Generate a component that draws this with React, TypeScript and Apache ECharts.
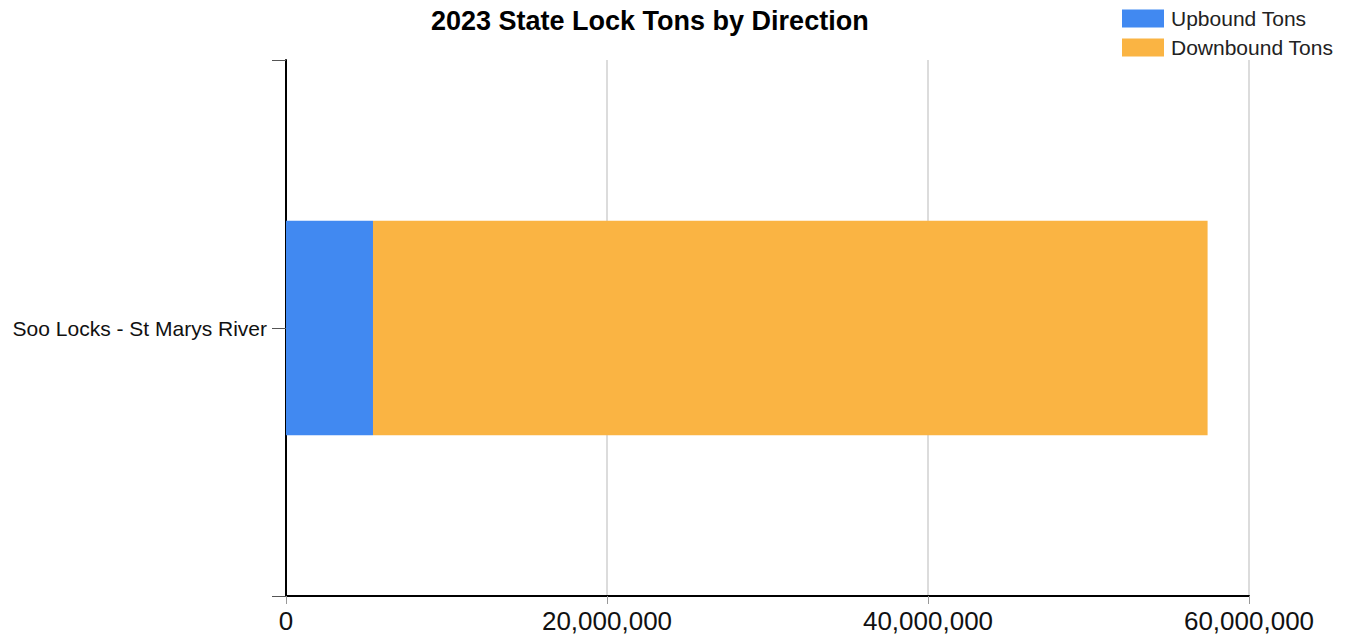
import React, { useEffect, useRef } from "react";
import * as echarts from "echarts";

const categories = ["Soo Locks - St Marys River"];
const upboundTons = [5420000];
const downboundTons = [52000000];
const xTicks = { min: 0, max: 60000000, interval: 20000000 };
const titleText = "2023 State Lock Tons by Direction";
const seriesNames = ["Upbound Tons", "Downbound Tons"];

const FONT = "Liberation Sans, Arial, sans-serif";

export default function App() {
  const ref = useRef<HTMLDivElement>(null);
  useEffect(() => {
    if (!ref.current) return;
    const chart = echarts.init(ref.current, null, { renderer: "svg" });
    chart.setOption({
      animation: false,
      textStyle: { fontFamily: FONT },
      title: {
        text: titleText,
        left: 426,
        top: 2,
        textStyle: { fontFamily: FONT, fontSize: 27, fontWeight: "bold", color: "#000" },
      },
      legend: {
        orient: "vertical",
        left: 1117,
        top: 3,
        itemWidth: 42,
        itemHeight: 18,
        itemGap: 8,
        icon: "rect",
        textStyle: { fontFamily: FONT, fontSize: 21, color: "#222", padding: [0, 0, 0, 2] },
        data: seriesNames,
      },
      grid: { left: 286, right: 103, top: 60, bottom: 39, containLabel: false },
      xAxis: {
        type: "value",
        min: xTicks.min,
        max: xTicks.max,
        interval: xTicks.interval,
        axisLine: { show: true, lineStyle: { color: "#000", width: 2 } },
        axisTick: { show: true, length: 8, lineStyle: { color: "#999", width: 1 } },
        axisLabel: {
          margin: 12,
          fontFamily: FONT,
          fontSize: 26,
          color: "#111",
          formatter: (v: number) => v.toLocaleString("en-US"),
        },
        splitLine: { show: true, lineStyle: { color: "#dcdcdc", width: 2 } },
      },
      yAxis: [
        {
          type: "category",
          data: categories,
          axisLine: { show: true, lineStyle: { color: "#000", width: 2 } },
          axisTick: { show: true, alignWithLabel: true, length: 14, lineStyle: { color: "#555", width: 1 } },
          axisLabel: { margin: 19, fontFamily: FONT, fontSize: 21, color: "#111" },
          splitLine: { show: false },
        },
        {
          type: "category",
          data: categories,
          position: "left",
          offset: 0,
          axisLine: { show: false },
          axisTick: { show: true, length: 14, lineStyle: { color: "#555", width: 1 } },
          axisLabel: { show: false },
          splitLine: { show: false },
        },
      ],
      series: [
        {
          name: seriesNames[0],
          type: "bar",
          stack: "tons",
          yAxisIndex: 0,
          barWidth: "40%",
          data: upboundTons,
          itemStyle: { color: "#4189F1" },
        },
        {
          name: seriesNames[1],
          type: "bar",
          stack: "tons",
          yAxisIndex: 0,
          barWidth: "40%",
          data: downboundTons,
          itemStyle: { color: "#FAB443" },
        },
      ],
    });
    return () => chart.dispose();
  }, []);
  return (
    <div
      ref={ref}
      style={{ position: "fixed", left: 0, top: 0, width: 1352, height: 635, background: "#fff" }}
    />
  );
}
